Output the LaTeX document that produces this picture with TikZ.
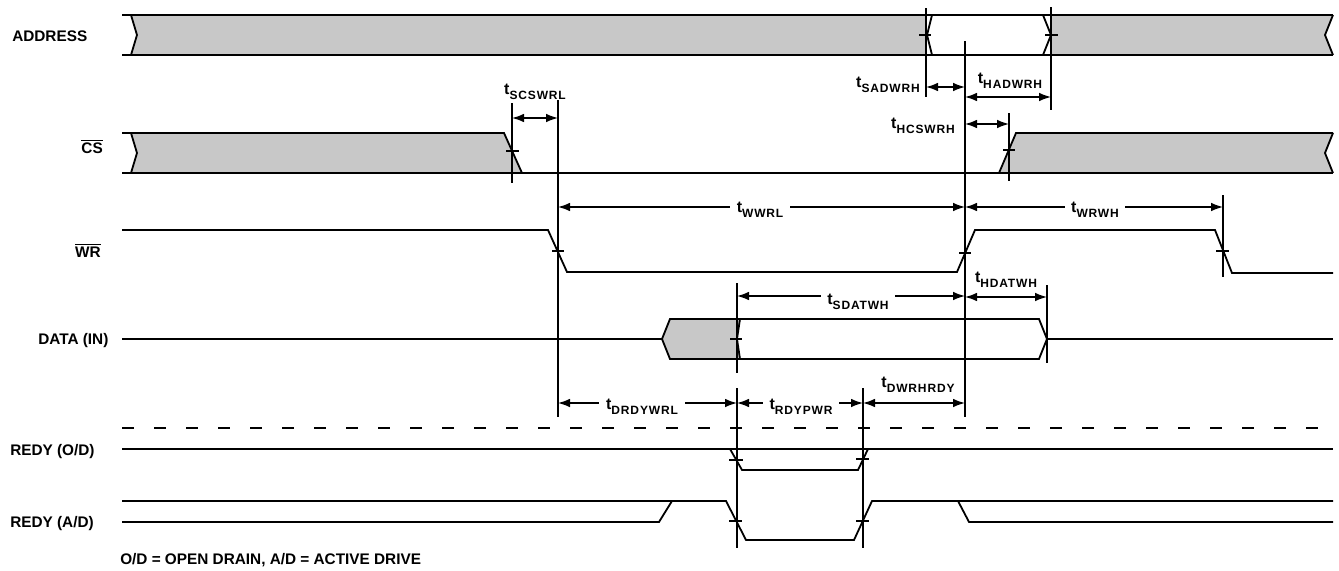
\documentclass[tikz,border=0pt]{standalone}
\usepackage{fontspec}
\setmainfont{Liberation Sans}
\newfontfamily\subfnt[LetterSpace=7]{Liberation Sans}
\usetikzlibrary{arrows.meta}
\definecolor{busgray}{RGB}{200,200,200}
\newcommand\tsig[1]{{\fontsize{12}{13}\selectfont\bfseries t\raisebox{-0.6ex}{\subfnt\bfseries\fontsize{9}{10}\selectfont #1}}}
\begin{document}
\begin{tikzpicture}[x=0.75pt,y=-0.75pt,
  sigline/.style={line width=1.35pt, line join=miter},
  guide/.style={line width=1.2pt},
  tick/.style={line width=1.2pt},
  dimarrow/.style={line width=1.1pt,{Latex[length=9pt,width=6.5pt]}-{Latex[length=9pt,width=6.5pt]}},
  lab/.style={font=\fontsize{11.5}{13}\selectfont\bfseries, inner sep=0pt},
  tlab/.style={inner sep=0pt},
  gaplab/.style={fill=white, inner xsep=5pt, inner ysep=1pt},
  dashline/.style={line width=1.35pt, dash pattern=on 9pt off 15pt}]
\useasboundingbox (0,0) rectangle (1339,571);

% ---------- signal names ----------
\node[lab, anchor=base west] (nADDR) at (12,41) {ADDRESS};
\node[lab, anchor=base east] (nCS) at (103,153) {$\overline{\hbox{CS}}$};
\node[lab, anchor=base east] (nWR) at (101,257) {$\overline{\hbox{WR}}$};
\node[lab, anchor=base west] (nDATA) at (38,344) {DATA (IN)};
\node[lab, anchor=base west] (nRO) at (10,455) {REDY (O/D)};
\node[lab, anchor=base west] (nRA) at (10,527) {REDY (A/D)};
\node[lab, anchor=base west] (nNote) at (120,564) {O/D = OPEN DRAIN, A/D = ACTIVE DRIVE};

% ---------- ADDRESS ----------
\fill[busgray] (131,15) -- (926,15) -- (926,55) -- (131,55) -- (137,35) -- cycle;
\fill[busgray] (1051,15) -- (1333,15) -- (1325,35) -- (1333,55) -- (1051,55) -- cycle;
\draw[sigline] (122,15) -- (1333,15);
\draw[sigline] (122,55) -- (1333,55);
\draw[sigline] (131,15) -- (137,35) -- (131,55);
\draw[sigline] (932,15) -- (927,35) -- (932,55);
\draw[sigline] (1043,15) -- (1051,35) -- (1043,55);
\draw[sigline] (1333,15) -- (1325,35) -- (1333,55);

% ---------- CS ----------
\fill[busgray] (131,133) -- (504,133) -- (522,173) -- (131,173) -- (137,153) -- cycle;
\fill[busgray] (999,173) -- (1016,133) -- (1333,133) -- (1325,153) -- (1333,173) -- cycle;
\draw[sigline] (122,133) -- (504,133) -- (522,173);
\draw[sigline] (122,173) -- (1333,173);
\draw[sigline] (131,133) -- (137,153) -- (131,173);
\draw[sigline] (999,173) -- (1016,133) -- (1333,133);
\draw[sigline] (1333,133) -- (1325,153) -- (1333,173);

% ---------- WR ----------
\draw[sigline] (122,230) -- (548,230) -- (567,272) -- (957,272) -- (975,230)
  -- (1215,230) -- (1232,273) -- (1333,273);

% ---------- DATA ----------
\fill[busgray] (662,339) -- (670,319) -- (740,319) -- (737,339) -- (740,359) -- (670,359) -- cycle;
\draw[sigline] (122,339) -- (662,339);
\draw[sigline] (662,339) -- (670,319) -- (1039,319) -- (1047,339) -- (1039,359) -- (670,359) -- cycle;
\draw[sigline] (740,319) -- (737,339) -- (740,359);
\draw[sigline] (1047,339) -- (1333,339);

% ---------- REDY ----------
\draw[dashline] (122,428) -- (1337,428);
\draw[sigline] (122,449) -- (1333,449);
\draw[sigline] (730,449) -- (742,470) -- (858,470) -- (868,449);
\draw[sigline] (122,501) -- (726,501) -- (746,540) -- (854,540) -- (872,501) -- (1333,501);
\draw[sigline] (122,522) -- (659,522) -- (672,501);
\draw[sigline] (958,501) -- (969,522) -- (1333,522);

% ---------- guide lines ----------
\draw[guide] (926,8) -- (926,97);
\draw[guide] (1051,7) -- (1051,110);
\draw[guide] (965,41) -- (965,417);
\draw[guide] (512,103) -- (512,183);
\draw[guide] (558,100) -- (558,417);
\draw[guide] (1009,113) -- (1009,181);
\draw[guide] (1223,195) -- (1223,277);
\draw[guide] (737,283) -- (737,373);
\draw[guide] (737,388) -- (737,548);
\draw[guide] (1047,285) -- (1047,363);
\draw[guide] (863,388) -- (863,548);

% ---------- ticks ----------
\draw[tick] (919,35) -- (931,35);
\draw[tick] (1045,35) -- (1058,35);
\draw[tick] (506,151) -- (519,151);
\draw[tick] (1003,150) -- (1015,150);
\draw[tick] (552,251) -- (564,251);
\draw[tick] (959,253) -- (971,253);
\draw[tick] (1216,251) -- (1229,251);
\draw[tick] (730,339) -- (742,339);
\draw[tick] (729,460) -- (743,460);
\draw[tick] (856,459) -- (869,459);
\draw[tick] (729,521) -- (742,521);
\draw[tick] (856,521) -- (869,521);

% ---------- timing arrows ----------
\draw[dimarrow] (926,87) -- (965,87);
\node[tlab, anchor=east] (lSADWRH) at (920,85) {\tsig{SADWRH}};
\draw[dimarrow] (965,97) -- (1051,97);
\node[tlab] (lHADWRH) at (1010,81) {\tsig{HADWRH}};

\draw[dimarrow] (512,118) -- (558,118);
\node[tlab] (lSCSWRL) at (535,92) {\tsig{SCSWRL}};
\draw[dimarrow] (965,124) -- (1009,124);
\node[tlab, anchor=east] (lHCSWRH) at (955,126) {\tsig{HCSWRH}};

\draw[dimarrow] (558,207) -- (965,207);
\node[tlab, gaplab] (lWWRL) at (760,210) {\tsig{WWRL}};
\draw[dimarrow] (965,207) -- (1223,207);
\node[tlab, gaplab] (lWRWH) at (1095,210) {\tsig{WRWH}};

\draw[dimarrow] (737,296) -- (965,296);
\node[tlab, gaplab] (lSDATWH) at (858,302) {\tsig{SDATWH}};
\draw[dimarrow] (965,297) -- (1047,297);
\node[tlab] (lHDATWH) at (1006,280) {\tsig{HDATWH}};

\draw[dimarrow] (558,403) -- (737,403);
\node[tlab, gaplab] (lDRDYWRL) at (642,407) {\tsig{DRDYWRL}};
\draw[dimarrow] (737,403) -- (863,403);
\node[tlab, gaplab] (lRDYPWR) at (801,407) {\tsig{RDYPWR}};
\draw[dimarrow] (863,403) -- (965,403);
\node[tlab] (lDWRHRDY) at (918,385) {\tsig{DWRHRDY}};
\end{tikzpicture}
\end{document}
